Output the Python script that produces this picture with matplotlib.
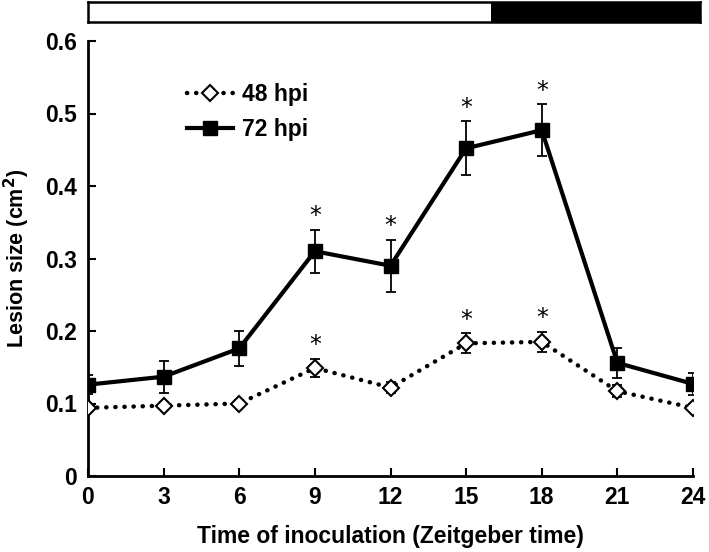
import matplotlib.pyplot as plt
import numpy as np
from matplotlib.patches import Rectangle

plt.rcParams["font.family"] = ["Liberation Sans", "DejaVu Sans"]
plt.rcParams["font.weight"] = "bold"
plt.rcParams["axes.labelweight"] = "bold"

# Data ------------------------------------------------------------------------------- #

zt = [0, 3, 6, 9, 12, 15, 18, 21, 24]

hpi48 = [0.094, 0.097, 0.100, 0.149, 0.122, 0.183, 0.185, 0.117, 0.094]
hpi48_err = [0.006, 0.005, 0.005, 0.013, 0.008, 0.014, 0.014, 0.008, 0.005]

hpi72 = [0.126, 0.137, 0.176, 0.310, 0.290, 0.452, 0.477, 0.156, 0.127]
hpi72_err = [0.013, 0.022, 0.024, 0.030, 0.036, 0.037, 0.036, 0.021, 0.015]

sig48 = [9, 15, 18]
sig72 = [9, 12, 15, 18]

light_end = 16  # lights off at ZT16
day_end = 24

yticks = [0, 0.1, 0.2, 0.3, 0.4, 0.5, 0.6]
ytick_labels = ["0", "0.1", "0.2", "0.3", "0.4", "0.5", "0.6"]

# Figure ----------------------------------------------------------------------------- #

W, H = 709, 552
fig = plt.figure(figsize=(W / 100, H / 100), dpi=100)
ax = fig.add_axes([88 / W, 1 - 476 / H, (693 - 88) / W, (476 - 41) / H])

dots = (0, (0.05, 2.0))
ax.plot(zt, hpi48, ls=dots, lw=3.2, color="black", dash_capstyle="round",
        marker="D", ms=8.5, mfc="white", mec="black", mew=1.5, label="48 hpi", zorder=3)
ax.plot(zt, hpi72, ls="-", lw=3, color="black",
        marker="s", ms=10.5, mfc="black", mec="black", label="72 hpi", zorder=3)
ax.errorbar(zt, hpi48, yerr=hpi48_err, fmt="none", ecolor="black", elinewidth=1.3,
            capsize=3.5, capthick=1.3, zorder=2)
ax.errorbar(zt, hpi72, yerr=hpi72_err, fmt="none", ecolor="black", elinewidth=1.3,
            capsize=3.5, capthick=1.3, zorder=2)

# significance stars
for vals, errs, sig in [(hpi48, hpi48_err, sig48), (hpi72, hpi72_err, sig72)]:
    for t in sig:
        i = zt.index(t)
        ax.annotate("*", (t, vals[i] + errs[i]), xytext=(0, 1), textcoords="offset points",
                    ha="center", va="bottom", fontsize=17, fontweight="normal",
                    family="DejaVu Sans")

ax.set_xlim(0, 24)
ax.set_ylim(0, 0.6)
ax.set_xticks(zt)
ax.set_yticks(yticks)
ax.set_yticklabels(ytick_labels)
ax.tick_params(direction="in", length=6, width=1.5, labelsize=16.5, pad=8)
ax.tick_params(axis="x", pad=7)
for s in ["top", "right"]:
    ax.spines[s].set_visible(False)
for s in ["left", "bottom"]:
    ax.spines[s].set_linewidth(2)
ax.set_xlabel("Time of inoculation (Zeitgeber time)", fontsize=16.5, labelpad=12)
ax.set_ylabel("Lesion size (cm$^\\mathbf{2}$)", fontsize=15.5)
ax.yaxis.set_label_coords(-(88 - 32) / (693 - 88), 0.5)

ax.legend(loc="upper left", bbox_to_anchor=(0.13, 0.95), frameon=False, fontsize=16.5,
          handlelength=2.0, handletextpad=0.4, labelspacing=0.5)

# Light / dark bar ------------------------------------------------------------------- #

bar = fig.add_axes([88 / W, 1 - 22 / H, (700 - 88) / W, 20 / H])
bar_end = day_end * (700 - 88) / (693 - 88)
bar.add_patch(Rectangle((0, 0), light_end, 1, facecolor="white", edgecolor="none"))
bar.add_patch(Rectangle((light_end, 0), bar_end - light_end, 1, facecolor="black",
                        edgecolor="none"))
bar.set_xlim(0, bar_end)
bar.set_ylim(0, 1)
bar.set_xticks([])
bar.set_yticks([])
for s in bar.spines.values():
    s.set_linewidth(1.8)

fig.savefig("out.png", dpi=100)
